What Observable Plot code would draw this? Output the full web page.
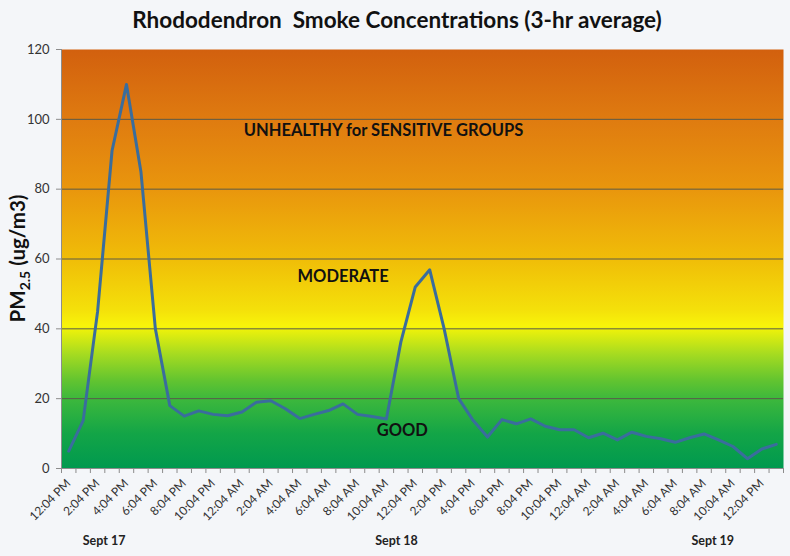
<!DOCTYPE html>
<html><head><meta charset="utf-8">
<script src="https://cdn.jsdelivr.net/npm/d3@7"></script>
<script src="https://cdn.jsdelivr.net/npm/@observablehq/plot@0.6"></script>
<style>
body{margin:0;background:#f4f6f9;font-family:Lato,"Open Sans",sans-serif;width:790px;height:556px;overflow:hidden;}
#title{height:40px;line-height:40px;text-align:center;font-weight:bold;font-size:22.5px;color:#111;padding-left:4px;}
</style></head><body>
<div id="title">Rhododendron&nbsp; Smoke Concentrations (3-hr average)</div>
<div id="chart"></div>
<script>
// hourly 3-hr average PM2.5 values, 12:04 PM Sept 17 .. 1:04 PM Sept 19
const values = [5, 13.7, 45, 91, 110, 85, 40, 18, 15, 16.5, 15.5, 15.1, 16.2, 19, 19.4, 17.1, 14.3, 15.5, 16.6, 18.5,
  15.5, 14.9, 14.2, 36.2, 52, 56.9, 40, 20.1, 13.8, 9, 14, 12.8, 14.2, 12.1, 11.1, 11.1, 8.8, 10.1, 8.2, 10.4,
  9.2, 8.5, 7.5, 8.8, 9.9, 8.2, 6.3, 2.8, 5.6, 6.9];
const timeLabels = ["12:04 PM","2:04 PM","4:04 PM","6:04 PM","8:04 PM","10:04 PM","12:04 AM","2:04 AM","4:04 AM","6:04 AM","8:04 AM","10:04 AM",
  "12:04 PM","2:04 PM","4:04 PM","6:04 PM","8:04 PM","10:04 PM","12:04 AM","2:04 AM","4:04 AM","6:04 AM","8:04 AM","10:04 AM","12:04 PM"];
const dayLabels = ["Sept 17","Sept 18","Sept 19"];
const zoneLabels = ["UNHEALTHY for SENSITIVE GROUPS","MODERATE","GOOD"];
const yTicks = [0,20,40,60,80,100,120];
const gridValues = [20,40,60,80,100];

const n = values.length;
const data = values.map((v,i)=>({i, v}));
// annotation placement (x in category index, y in data units)
const zones = zoneLabels.map((t,k)=>({t, x:[21.8,19.0,23.1][k], y:[96.6,55,10.9][k]}));
const days = dayLabels.map((t,k)=>({t, x:[2.45,22.7,44.6][k]}));

const chart = Plot.plot({
  width: 790, height: 516,
  marginTop: 9, marginLeft: 61, marginRight: 7, marginBottom: 88,
  style: {background: "transparent", fontFamily: "Lato, 'Open Sans', sans-serif", color: "#333", overflow: "visible"},
  x: {domain: [-0.5, n - 0.5], axis: null},
  y: {domain: [0, 120], axis: null},
  marks: [
    Plot.frame({fill: "url(#zoneGrad)", stroke: null}),
    Plot.ruleY(gridValues, {stroke: "#5a5a4a", strokeWidth: 1}),
    Plot.ruleX([-0.5], {stroke: "#8c8c8c"}),
    Plot.ruleY([0], {stroke: "#8c8c8c"}),
    Plot.axisY({ticks: yTicks, tickSize: 5, tickPadding: 7, fontSize: 13, stroke: "#8c8c8c", fill: "#333"}),
    Plot.axisX({ticks: d3.range(-0.5, n, 1), tickSize: 5, tickFormat: () => "", stroke: "#8c8c8c"}),
    Plot.axisX({ticks: timeLabels.map((_, k) => 2*k), tickFormat: d => timeLabels[d/2], tickSize: 0, tickRotate: -45, tickPadding: 13, fontSize: 12, fill: "#333"}),
    Plot.line(data, {x: "i", y: "v", stroke: "#3a6d9d", strokeWidth: 3, strokeLinejoin: "round"}),
    Plot.text(zones, {x: "x", y: "y", text: "t", fontSize: 16.5, fontWeight: "bold", fill: "#111"}),
    Plot.text(days, {x: "x", y: 0, text: "t", dy: 72, fontSize: 12.5, fontWeight: "bold", fill: "#222"})
  ]
});
document.getElementById("chart").appendChild(chart);

const svg = d3.select(chart);
const stops = [
  [0, "#d2600e"], [0.1667, "#df7b10"], [0.333, "#e9960d"], [0.5, "#f0bd08"], [0.62, "#f4e00a"],
  [0.66, "#f8f40a"], [0.672, "#e8f00c"], [0.725, "#a8dc20"], [0.79, "#62c430"], [0.833, "#3db83c"],
  [0.917, "#13a547"], [1, "#00994f"]
];
const grad = svg.insert("defs", ":first-child").append("linearGradient")
  .attr("id", "zoneGrad").attr("x1", 0).attr("y1", 0).attr("x2", 0).attr("y2", 1);
stops.forEach(([o, c]) => grad.append("stop").attr("offset", o).attr("stop-color", c));

const yt = svg.append("text")
  .attr("transform", `translate(25, ${9 + 419/2}) rotate(-90)`)
  .attr("text-anchor", "middle").attr("font-weight", "bold").attr("font-size", 20.5)
  .attr("fill", "#111").attr("font-family", "Lato, 'Open Sans', sans-serif");
yt.append("tspan").text("PM");
yt.append("tspan").attr("font-size", 14).attr("dy", 5).text("2.5");
yt.append("tspan").attr("dy", -5).text(" (ug/m3)");
</script>
</body></html>
